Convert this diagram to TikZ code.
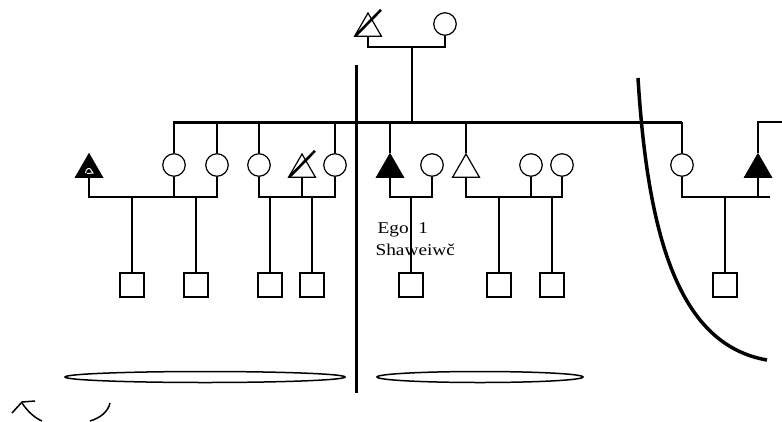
\documentclass[tikz,border=0pt]{standalone}
\usepackage{fontspec}
\usepackage{graphicx}
\setmainfont{Liberation Serif}
\usetikzlibrary{shapes.geometric,calc}
\begin{document}
\begin{tikzpicture}[x=1pt,y=-1pt,line width=1.2pt,
  fem/.style={circle,draw,minimum size=22.5pt,inner sep=0pt,fill=white},
  mal/.style={regular polygon,regular polygon sides=3,draw,minimum size=31pt,inner sep=0pt,fill=white},
  malf/.style={mal,fill=black},
  kid/.style={rectangle,draw,minimum size=24pt,inner sep=0pt},
  heavy/.style={line width=3pt},
  slash/.style={line width=2.6pt},
  lab/.style={font=\fontsize{16.5}{19}\selectfont,anchor=base west,inner sep=0pt}
]
\useasboundingbox (0,0) rectangle (782,421);

% grandparents
\node[mal] (gT) at (368,28.5) {};
\node[fem] (gC) at (445,24) {};

% sibling generation
\node[malf] (a1) at (89,169.5) {};
\node[fem] (a2) at (174,165) {};
\node[fem] (a3) at (217,165) {};
\node[fem] (b1) at (259,165) {};
\node[mal] (b2) at (302,169.5) {};
\node[fem] (b3) at (335,165) {};
\node[malf] (c1) at (390,169.5) {};
\node[fem] (c2) at (432,165) {};
\node[mal] (d1) at (466,169.5) {};
\node[fem] (d2) at (531,165) {};
\node[fem] (d3) at (562,165) {};
\node[fem] (e1) at (682,165) {};
\node[malf] (e2) at (758,169.5) {};

% children
\node[kid] (k1) at (132,285) {};
\node[kid] (k2) at (196,285) {};
\node[kid] (k3) at (270,285) {};
\node[kid] (k4) at (312,285) {};
\node[kid] (k5) at (411,285) {};
\node[kid] (k6) at (499,285) {};
\node[kid] (k7) at (552,285) {};
\node[kid] (k8) at (725,285) {};

% coordinates
\coordinate (top) at (412,47);
\coordinate (mL) at (173,122);
\coordinate (mR) at (682,122);
\coordinate (rR) at (782,122);
\coordinate (mA1) at (132,197);
\coordinate (mA2) at (196,197);
\coordinate (mB1) at (270,197);
\coordinate (mB2) at (312,197);
\coordinate (mC) at (411,197);
\coordinate (mD1) at (499,197);
\coordinate (mD2) at (552,197);
\coordinate (mE) at (725,197);
\coordinate (eR) at (770,197);

% top couple
\draw (gT.south) |- (top) -| (gC.south);
\draw (top) -- (top |- mL);

% sibling line
\draw[heavy] (mL) -- (mR);
\foreach \n in {a2,a3,b1,b3,c1,d1}{\draw (\n.north) -- (\n.north |- mL);}
\draw (mR) -- (e1.north);
\draw (e2.north) |- (rR);

% marriages
\draw (a1.south) |- (mA1) -| (a3.south);
\draw (a2.south) -- (a2.south |- mA1);
\draw (mA1) -- (k1.north);
\draw (mA2) -- (k2.north);

\draw (b1.south) |- (mB1) -| (b3.south);
\draw (b2.south) -- (b2.south |- mB1);
\draw (mB1) -- (k3.north);
\draw (mB2) -- (k4.north);

\draw (c1.south) |- (mC) -| (c2.south);
\draw (mC) -- (k5.north);

\draw (d1.south) |- (mD1) -| (d3.south);
\draw (d2.south) -- (d2.south |- mD1);
\draw (mD1) -- (k6.north);
\draw (mD2) -- (k7.north);

\draw (e1.south) |- (mE) -- (eR);
\draw (e2.south) -- (e2.south |- mE);
\draw (mE) -- (k8.north);

% deceased slashes
\draw[slash] ($(gT.corner 2)+(2,-1)$) -- ($(gT.corner 1)+(13,-2)$);
\draw[slash] ($(b2.corner 2)+(2,-1)$) -- ($(b2.corner 1)+(13,-2)$);
% mark inside filled triangle
\draw[white,line width=1pt] (85.5,173) .. controls (86,168) and (90,167) .. (91,170) -- (93,173) -- (87,173.5);

% dividers
\draw[heavy] (356,65) -- (356,393);
\draw[line width=3.5pt] (638,78) .. controls (648,240) and (680,345) .. (767,360);

% ellipses
\draw[line width=1.5pt] (205,377) ellipse [x radius=140,y radius=5.5];
\draw[line width=1.5pt] (480,377) ellipse [x radius=103,y radius=5.5];

% bottom-left arcs
\draw[line width=1.5pt] (35,401) -- (22,402) -- (12,413);
\draw[line width=1.5pt] (22,403) .. controls (28,412) and (35,418) .. (42,421);
\draw[line width=1.5pt] (110,403) .. controls (108,412) and (100,418) .. (90,421);

% labels
\node[lab] (ego) at (377,233) {\scalebox{1.17}[1]{Ego\hspace{0.5em}1}};
\node[lab] (sh) at (375,255) {\scalebox{1.17}[1]{Shaweiwč}};
\end{tikzpicture}
\end{document}
